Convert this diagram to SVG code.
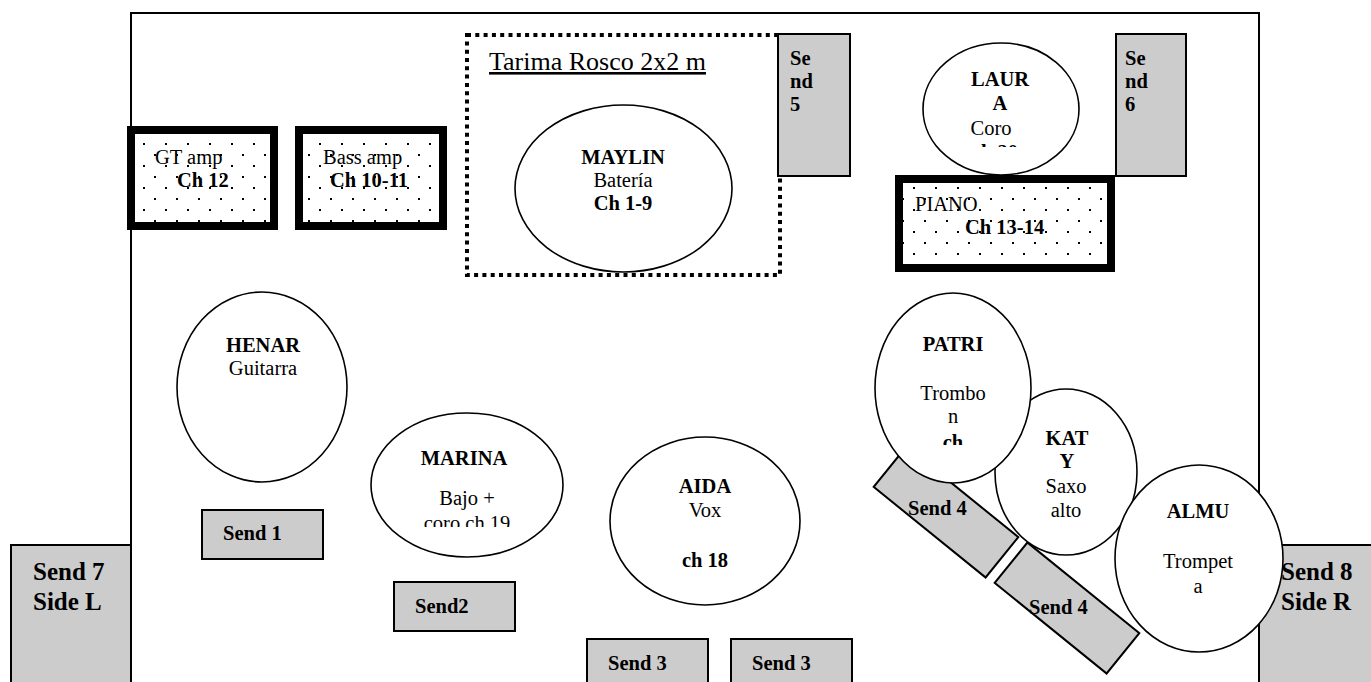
<svg xmlns="http://www.w3.org/2000/svg" width="1371" height="682" viewBox="0 0 1371 682">
<style>
text{font-family:'Liberation Serif','Times New Roman',serif;font-size:20.5px;fill:#000}
.b{font-weight:bold}
.c{text-anchor:middle}
.big{font-size:25px;font-weight:bold}
.send{fill:#cccccc;stroke:#000;stroke-width:2}
.pers{fill:#fff;stroke:#000;stroke-width:1.6}
.amp{fill:url(#dots);stroke:#000;stroke-width:8}
</style>
<defs>
<pattern id="dots" width="22" height="22" patternUnits="userSpaceOnUse">
<rect width="22" height="22" fill="#fff"/>
<rect x="0" y="0" width="2" height="2" fill="#000"/>
<rect x="11" y="11" width="2" height="2" fill="#000"/>
</pattern>
<clipPath id="clipLaura"><rect x="900" y="40" width="200" height="107"/></clipPath>
<clipPath id="clipMarina"><rect x="370" y="410" width="200" height="117"/></clipPath>
<clipPath id="clipPatri"><rect x="870" y="290" width="170" height="155"/></clipPath>
</defs>
<rect width="1371" height="682" fill="#fff"/>
<g id="stage"><path d="M131,682 V13 H1259 V682" fill="none" stroke="#000" stroke-width="2"/></g>
<g id="send7"><rect class="send" x="11" y="545" width="120" height="140"/><text class="big" x="33" y="580">Send 7</text><text class="big" x="33" y="610">Side L</text></g>
<g id="send8"><rect class="send" x="1259" y="545" width="120" height="140"/><text class="big" x="1281" y="580">Send 8</text><text class="big" x="1281" y="610">Side R</text></g>
<g id="tarima"><rect x="467" y="35" width="313" height="240" fill="none" stroke="#000" stroke-width="4" stroke-dasharray="4 4.3"/><text x="489" y="70" style="font-size:26px" text-decoration="underline">Tarima Rosco 2x2 m</text></g>
<g id="gt-amp"><rect class="amp" x="131" y="130" width="143" height="96"/><text x="155" y="164">GT amp</text><text class="b" x="177" y="187">Ch 12</text></g>
<g id="bass-amp"><rect class="amp" x="299" y="130" width="144" height="96"/><text x="323" y="164">Bass amp</text><text class="b" x="330" y="187">Ch 10-11</text></g>
<g id="maylin"><ellipse class="pers" cx="623.5" cy="188.5" rx="108.5" ry="83.5"/><text class="b c" x="623" y="164">MAYLIN</text><text class="c" x="623" y="187">Batería</text><text class="b c" x="623" y="210">Ch 1-9</text></g>
<g id="send5"><rect class="send" x="778" y="34" width="72" height="142"/><text class="b" x="790" y="65">Se</text><text class="b" x="790" y="88">nd</text><text class="b" x="790" y="111">5</text></g>
<g id="send6"><rect class="send" x="1116" y="34" width="70" height="142"/><text class="b" x="1125" y="65">Se</text><text class="b" x="1125" y="88">nd</text><text class="b" x="1125" y="111">6</text></g>
<g id="piano"><rect class="amp" x="899" y="179" width="212" height="89"/><text x="915" y="211">PIANO</text><text class="b" x="965" y="234">Ch 13-14</text></g>
<g id="laura"><ellipse class="pers" cx="1001" cy="109" rx="78" ry="66"/><text class="b c" x="1000" y="86">LAUR</text><text class="b c" x="1000" y="110">A</text><text class="c" x="991" y="135">Coro</text><text class="b c" x="995" y="159" clip-path="url(#clipLaura)">ch 20</text></g>
<g id="henar"><ellipse class="pers" cx="262" cy="387" rx="85" ry="95"/><text class="b c" x="263" y="352">HENAR</text><text class="c" x="263" y="375">Guitarra</text></g>
<g id="send1"><rect class="send" x="202" y="510" width="121" height="49"/><text class="b" x="223" y="540">Send 1</text></g>
<g id="marina"><ellipse class="pers" cx="467" cy="485" rx="96" ry="72"/><text class="b c" x="464" y="465">MARINA</text><text class="c" x="467" y="505">Bajo +</text><text class="c" x="467" y="530" clip-path="url(#clipMarina)">coro ch 19</text></g>
<g id="send2"><rect class="send" x="394" y="582" width="121" height="49"/><text class="b" x="415" y="613">Send2</text></g>
<g id="aida"><ellipse class="pers" cx="705" cy="521" rx="95" ry="84"/><text class="b c" x="705" y="493">AIDA</text><text class="c" x="705" y="517">Vox</text><text class="b c" x="705" y="567">ch 18</text></g>
<g id="send3a"><rect class="send" x="587" y="639" width="121" height="50"/><text class="b" x="608" y="670">Send 3</text></g>
<g id="send3b"><rect class="send" x="731" y="639" width="121" height="50"/><text class="b" x="752" y="670">Send 3</text></g>
<g id="send4a"><rect class="send" x="-72" y="-26" width="144" height="52" transform="translate(946,512) rotate(39)"/><text class="b" x="908" y="515">Send 4</text></g>
<g id="send4b"><rect class="send" x="-72" y="-26" width="144" height="52" transform="translate(1067,608) rotate(39)"/><text class="b" x="1029" y="614">Send 4</text></g>
<g id="katy"><ellipse class="pers" cx="1066" cy="472" rx="71" ry="83"/><text class="b c" x="1067" y="445">KAT</text><text class="b c" x="1067" y="468">Y</text><text class="c" x="1066" y="493">Saxo</text><text class="c" x="1066" y="517">alto</text></g>
<g id="patri"><ellipse class="pers" cx="953" cy="388" rx="78" ry="95"/><text class="b c" x="953" y="351">PATRI</text><text class="c" x="953" y="400">Trombo</text><text class="c" x="953" y="423">n</text><text class="b c" x="953" y="449" clip-path="url(#clipPatri)">ch</text></g>
<g id="almu"><ellipse class="pers" cx="1199" cy="558.5" rx="84" ry="93.5"/><text class="b c" x="1198" y="518">ALMU</text><text class="c" x="1198" y="568">Trompet</text><text class="c" x="1198" y="593">a</text></g>
<g id="connectors"></g>
</svg>
